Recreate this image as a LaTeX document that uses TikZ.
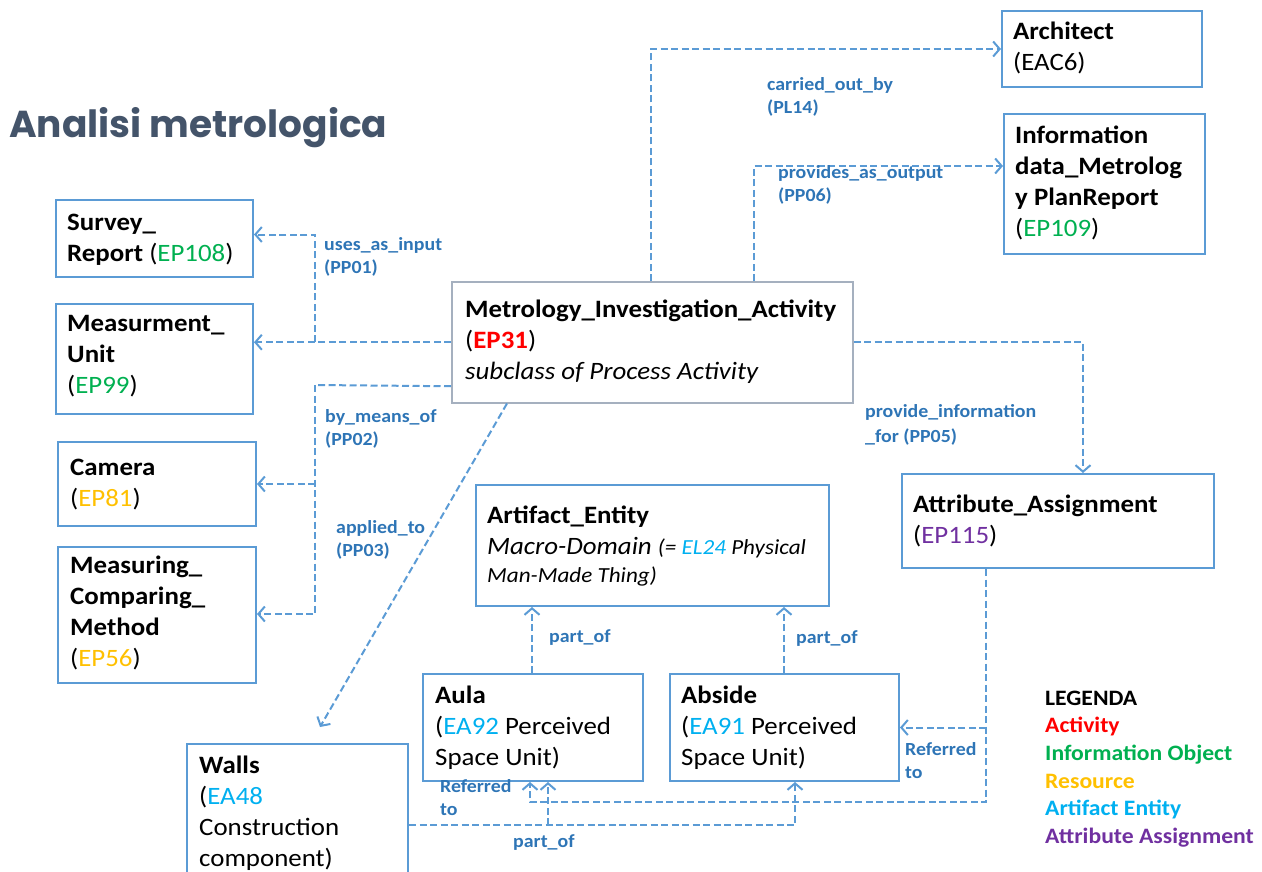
\documentclass[tikz,border=0pt]{standalone}
\usepackage{fontspec}
\setmainfont{Carlito}[FakeStretch=1.075]
\newfontfamily\titlefont{Poppins}
\usetikzlibrary{arrows.meta,calc}
\definecolor{bx}{HTML}{5B9BD5}
\definecolor{lb}{HTML}{2E75B6}
\definecolor{gb}{HTML}{A5B0BF}
\definecolor{cR}{HTML}{FF0000}
\definecolor{cG}{HTML}{00B050}
\definecolor{cY}{HTML}{FFC000}
\definecolor{cC}{HTML}{00B0F0}
\definecolor{cP}{HTML}{7030A0}
\definecolor{tg}{HTML}{44546A}
\newcommand\fl{\rule{0pt}{20pt}}
\newcommand\fs{\rule{0pt}{16pt}}
\newcommand\fg{\rule{0pt}{17pt}}
\tikzset{
  box/.style={draw=bx, line width=2pt, inner sep=0pt, anchor=north west},
  txt/.style={align=left, inner sep=0pt, anchor=north west, font=\fontsize{25}{31}\selectfont},
  lbl/.style={align=left, inner sep=0pt, anchor=north west, text=lb, font=\bfseries\fontsize{18.5}{23.5}\selectfont},
  conn/.style={draw=bx, line width=2pt, dash pattern=on 7pt off 3.5pt},
  arr/.style={conn, -{Straight Barb[length=6.5pt,width=15pt]}},
}
\begin{document}
\begin{tikzpicture}[x=1pt,y=-1pt]
\useasboundingbox (0,0) rectangle (1262,872);
% title
\node[anchor=base west, inner sep=0pt, text=tg, font=\titlefont\bfseries\fontsize{37.5}{40}\selectfont] (title) at (9,138) {Analisi metrologica};
% boxes
\node[box, minimum width=200pt, minimum height=76pt] (arch) at (1001,10) {};
\node[box, minimum width=201pt, minimum height=140pt] (info) at (1003,113) {};
\node[box, minimum width=197pt, minimum height=77pt] (survey) at (55,199) {};
\node[box, minimum width=197pt, minimum height=110pt] (meas) at (55,303) {};
\node[box, minimum width=198pt, minimum height=84pt] (cam) at (57,441) {};
\node[box, minimum width=198pt, minimum height=136pt] (meth) at (57,546) {};
\node[box, draw=gb, line width=1.5pt, minimum width=401pt, minimum height=121pt] (met) at (451,281) {};
\node[box, minimum width=353pt, minimum height=121pt] (art) at (475,484) {};
\node[box, minimum width=312pt, minimum height=94pt] (attr) at (901,473) {};
\node[box, minimum width=220pt, minimum height=107pt] (aula) at (422,673) {};
\node[box, minimum width=229pt, minimum height=107pt] (abs) at (669,673) {};
\node[box, minimum width=221pt, minimum height=150pt] (walls) at (186,743) {};
% box texts
\node[txt] (arch-t) at (1013,19) {\fl\textbf{Architect}\\(EAC6)};
\node[txt] (info-t) at (1015,123) {\fl\textbf{Information}\\\textbf{data\_Metrolog}\\\textbf{y PlanReport}\\(\textcolor{cG}{EP109})};
\node[txt] (survey-t) at (67,210) {\fl\textbf{Survey\_}\\\textbf{Report} (\textcolor{cG}{EP108})};
\node[txt] (meas-t) at (67,311) {\fl\textbf{Measurment\_}\\\textbf{Unit}\\(\textcolor{cG}{EP99})};
\node[txt] (cam-t) at (70,455) {\fl\textbf{Camera}\\(\textcolor{cY}{EP81})};
\node[txt] (meth-t) at (70,553) {\fl\textbf{Measuring\_}\\\textbf{Comparing\_}\\\textbf{Method}\\(\textcolor{cY}{EP56})};
\node[txt] (met-t) at (465,297) {\fl\textbf{Metrology\_Investigation\_Activity}\\(\textcolor{cR}{\textbf{EP31}})\\\textit{subclass of Process Activity}};
\node[txt] (art-t) at (487,503) {\fl\textbf{Artifact\_Entity}\\\textit{Macro-Domain {\fontsize{21.5}{27}\selectfont(= \textcolor{cC}{EL24} Physical}}\\[-3pt]{\fontsize{21.5}{27}\selectfont\textit{Man-Made Thing)}}};
\node[txt] (attr-t) at (913,492) {\fl\textbf{Attribute\_Assignment}\\(\textcolor{cP}{EP115})};
\node[txt] (aula-t) at (435,683) {\fl\textbf{Aula}\\(\textcolor{cC}{EA92} Perceived\\Space Unit)};
\node[txt] (abs-t) at (681,683) {\fl\textbf{Abside}\\(\textcolor{cC}{EA91} Perceived\\Space Unit)};
\node[txt] (walls-t) at (199,753) {\fl\textbf{Walls}\\(\textcolor{cC}{EA48}\\Construction\\component)};
% legend
\node[align=left, inner sep=0pt, anchor=north west, font=\bfseries\fontsize{22}{27.6}\selectfont] (legend) at (1045,688) {\fg LEGENDA\\\textcolor{cR}{Activity}\\\textcolor{cG}{Information Object}\\\textcolor{cY}{Resource}\\\textcolor{cC}{Artifact Entity}\\\textcolor{cP}{Attribute Assignment}};
% connectors
\coordinate (j2) at (315,385);
\coordinate (j3) at (315,614);
\coordinate (j1) at (met.west -| j2);
\draw[arr] ([xshift=200pt]met.north west) |- (arch.west);
\draw[arr] ([xshift=303pt]met.north west) |- ([yshift=18pt]info.west);
\draw[arr] (met.west) -- (met.west -| meas.east);
\draw[arr] (j1) |- ([yshift=4pt]survey.east);
\draw[conn] ([yshift=-44pt]met.west) -- (j2);
\draw[arr] (j2) -- (j3) -- (j3 -| meth.east);
\draw[arr] (j2 |- cam.east) -- (cam.east);
\draw[arr] ([xshift=56pt]met.south west) -- ([xshift=134pt,yshift=16pt]walls.north west);
\draw[arr] (met.east) -| ([xshift=182pt]attr.north west);
\draw[arr] ([xshift=110pt]aula.north west) -- ([xshift=110pt]aula.north west |- art.south);
\draw[arr] ([xshift=115pt]abs.north west) -- ([xshift=115pt]abs.north west |- art.south);
\coordinate (rv) at ([xshift=85pt]attr.south west);
\coordinate (rb) at ([yshift=-20pt]aula.south west);
\draw[arr] (rv) -- (rv |- rb) -| ([xshift=108pt]aula.south west);
\draw[arr] (rv |- abs.east) -- (abs.east);
\coordinate (pb) at ([yshift=-6pt]walls.east);
\draw[arr] (pb) -| ([xshift=126pt]abs.south west);
\draw[arr] ([xshift=126pt]aula.south west |- pb) -- ([xshift=126pt]aula.south west);
% labels
\node[lbl] (l-carr) at (767,74) {\fs carried\_out\_by\\(PL14)};
\node[lbl] (l-prov) at (778,162) {\fs provides\_as\_output\\(PP06)};
\node[lbl] (l-uses) at (324,234) {\fs uses\_as\_input\\(PP01)};
\node[lbl] (l-bym) at (325,406) {\fs by\_means\_of\\(PP02)};
\node[lbl] (l-app) at (336,517) {\fs applied\_to\\(PP03)};
\node[lbl, font=\bfseries\fontsize{18.5}{25}\selectfont] (l-pif) at (865,401) {\fs provide\_information\\\_for (PP05)};
\node[lbl] (l-po1) at (549,626) {\fs part\_of};
\node[lbl] (l-po2) at (796,627) {\fs part\_of};
\node[lbl] (l-ref1) at (905,739) {\fs Referred\\to};
\node[lbl] (l-ref2) at (440,776) {\fs Referred\\to};
\node[lbl] (l-po3) at (513,831) {\fs part\_of};
\end{tikzpicture}
\end{document}
